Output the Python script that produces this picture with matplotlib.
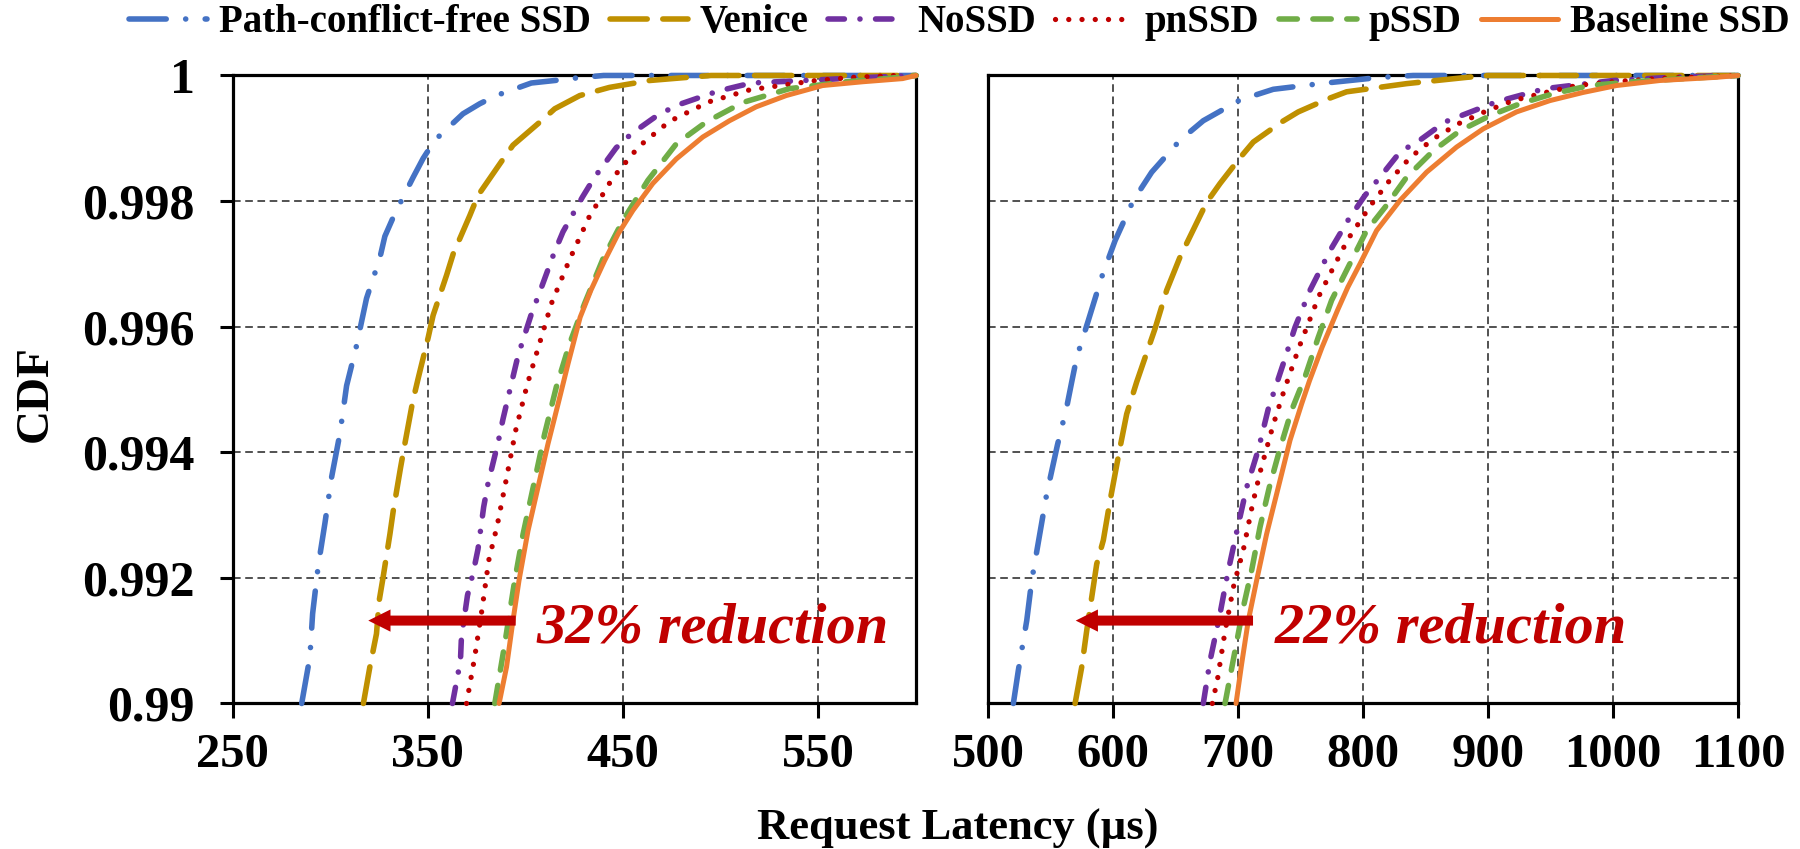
import matplotlib
matplotlib.use("Agg")
import matplotlib.pyplot as plt
from matplotlib.patches import ArrowStyle

plt.rcParams['font.family'] = ['Liberation Serif', 'DejaVu Serif']
plt.rcParams['font.weight'] = 'bold'

SERIES = ["Path-conflict-free SSD", "Venice", "NoSSD", "pnSSD", "pSSD", "Baseline SSD"]
COLORS = ["#4472C4", "#BF9000", "#7030A0", "#C00000", "#70AD47", "#ED7D31"]

# ---------------- left panel data (latency us, CDF) ----------------
L_PCF_LAT = [285.4, 289.6, 291, 293.9, 297.3, 300.7, 305, 308.4, 313.5, 316, 318.6, 325.4, 328, 333.1,
             342.5, 347.6, 353.6, 368, 376.6, 385, 403, 415, 426, 440, 600]
L_PCF_CDF = [0.99, 0.99074, 0.99143, 0.9922, 0.99287, 0.9936, 0.9943, 0.99506, 0.9957, 0.99607, 0.99645,
             0.99709, 0.99744, 0.9978, 0.99838, 0.99868, 0.99897, 0.99939, 0.99955, 0.99968, 0.99988,
             0.99992, 0.99996, 1.0, 1.0]
L_VEN_LAT = [317, 320.3, 323.7, 325.1, 327.1, 330.6, 332.3, 336, 338.2, 342.2, 345, 350.2, 352.7, 359.6,
             363, 371.5, 375.7, 387.7, 393.6, 408.2, 415, 427.8, 443, 463.6, 479, 495, 600]
L_VEN_CDF = [0.99, 0.99058, 0.99111, 0.99164, 0.99201, 0.9927, 0.99307, 0.99375, 0.99413, 0.9948, 0.99517,
             0.99583, 0.99618, 0.99682, 0.99716, 0.99777, 0.99809, 0.99863, 0.99889, 0.99928, 0.99947,
             0.99968, 0.99981, 0.99992, 0.99996, 1.0, 1.0]
L_NO_LAT = [362.6, 366.7, 367.2, 370.3, 373.2, 375.7, 378.6, 380.8, 386, 388.5, 393.6, 396.2, 403, 407.3,
            414.5, 419.2, 429.1, 435.4, 446.5, 454.2, 468.7, 479.8, 498.5, 515.6, 576, 600]
L_NO_CDF = [0.99, 0.99068, 0.99105, 0.99172, 0.99208, 0.99246, 0.99313, 0.9935, 0.99416, 0.99453, 0.9952,
            0.99554, 0.9962, 0.99655, 0.99716, 0.99751, 0.99806, 0.99838, 0.99885, 0.99907, 0.99939,
            0.99955, 0.99975, 0.99988, 0.99997, 1.0]
L_PN_LAT = [369.8, 374, 377.8, 381.2, 385.5, 390.3, 395, 401, 406.4, 413.3, 422.6, 432.5, 444.5, 458.1,
            473.8, 493.9, 514.7, 548.8, 567.6, 590]
L_PN_CDF = [0.99, 0.99074, 0.99151, 0.99228, 0.99283, 0.99359, 0.99435, 0.99509, 0.99565, 0.99637,
            0.99707, 0.99774, 0.99836, 0.99887, 0.99927, 0.99958, 0.99977, 0.99992, 0.99997, 1.0]
L_P_LAT = [384.3, 389.4, 394.5, 398.8, 404.7, 409.8, 415.8, 422.6, 430.3, 439.7, 449.9, 462.7, 477.2,
           492.6, 511.3, 535.2, 564.2, 584.6, 600]
L_P_CDF = [0.99, 0.99095, 0.99196, 0.9927, 0.99355, 0.99429, 0.99504, 0.99573, 0.99637, 0.99708, 0.99769,
           0.99833, 0.99891, 0.99926, 0.99957, 0.99979, 0.9999, 0.99995, 1.0]
L_BASE_LAT = [386.5, 390.3, 393.6, 396.7, 401.3, 406.4, 411.5, 416.7, 421.8, 428, 433.5, 440.5, 447.5,
              455, 465.2, 477.2, 490.8, 504.5, 518.1, 533.5, 552.2, 572.7, 593.1, 600]
L_BASE_CDF = [0.99, 0.99058, 0.99132, 0.99196, 0.99275, 0.99344, 0.99413, 0.99477, 0.99541, 0.99615,
              0.99658, 0.99705, 0.99748, 0.99785, 0.99828, 0.99867, 0.99902, 0.99928, 0.9995, 0.99968,
              0.99984, 0.9999, 0.99995, 1.0]

# ---------------- right panel data ----------------
R_PCF_LAT = [520, 524, 530.7, 534.7, 541.4, 546.7, 555.2, 562.7, 566.7, 570.7, 580, 590.7, 601.4, 616,
             630.7, 653.4, 672, 701.4, 728, 765.4, 813.4, 840, 1100]
R_PCF_CDF = [0.99, 0.99053, 0.99132, 0.99196, 0.99273, 0.99334, 0.99411, 0.99472, 0.99512, 0.99551,
             0.9961, 0.99679, 0.99737, 0.99801, 0.99846, 0.99897, 0.99928, 0.99961, 0.99978, 0.99987,
             0.99997, 1.0, 1.0]
R_VEN_LAT = [569.4, 574.7, 578.7, 582.7, 586.7, 592, 597.4, 605.4, 610.7, 618.7, 633.4, 642.7, 653.4,
             674.7, 685.4, 701.4, 712, 734.7, 748, 772, 786.7, 834.7, 882.7, 900, 1100]
R_VEN_CDF = [0.99, 0.99058, 0.99116, 0.99169, 0.99222, 0.9926, 0.99323, 0.99408, 0.99461, 0.99512,
             0.99597, 0.99658, 0.99711, 0.99798, 0.99828, 0.99869, 0.99894, 0.99926, 0.99942, 0.99963,
             0.99974, 0.99987, 0.99997, 1.0, 1.0]
R_NO_LAT = [672, 677.4, 685.4, 691.5, 698.7, 706.7, 716, 724, 736, 745.4, 757.4, 773.4, 788, 801.4,
            813.4, 829.4, 846.7, 865.4, 906.7, 945.4, 1000, 1045.4, 1090]
R_NO_CDF = [0.99, 0.99068, 0.99143, 0.99207, 0.99273, 0.99344, 0.99404, 0.99469, 0.99541, 0.99599,
            0.99658, 0.99721, 0.9977, 0.99809, 0.99838, 0.99878, 0.99899, 0.99926, 0.99958, 0.99979,
            0.99992, 0.99997, 1.0]
R_PN_LAT = [679.2, 683.5, 689.4, 696.6, 704, 711.5, 718.2, 728, 736.6, 748.6, 764.6, 776.8, 788, 805.9,
            820.8, 837.4, 856, 876, 898.1, 920, 944, 970.7, 1000, 1034.7, 1072, 1100]
R_PN_CDF = [0.99, 0.9904, 0.99115, 0.9919, 0.99244, 0.99318, 0.99374, 0.99444, 0.99498, 0.99567,
            0.99649, 0.99697, 0.9974, 0.99793, 0.99832, 0.99869, 0.99899, 0.99923, 0.99943, 0.9996,
            0.99972, 0.99984, 0.9999, 0.99995, 0.99998, 1.0]
R_P_LAT = [689.4, 697.4, 704, 710.7, 717.4, 724.8, 733.4, 742.7, 753.4, 764, 774.7, 788, 802.7, 817.4,
           834.7, 856, 877.4, 901.4, 925.4, 952, 981.4, 1016, 1056, 1100]
R_P_CDF = [0.99, 0.99084, 0.99153, 0.99212, 0.99281, 0.99344, 0.99406, 0.99467, 0.9952, 0.99583,
           0.99642, 0.99695, 0.99753, 0.9979, 0.99838, 0.9988, 0.99912, 0.99936, 0.99955, 0.99971,
           0.99984, 0.9999, 0.99995, 1.0]
R_BASE_LAT = [698.2, 702.7, 708, 714.7, 722.7, 732, 741.4, 750.7, 757, 767, 779.4, 787.7, 797.4, 810.7,
              829.4, 850.7, 874.7, 896, 922.7, 949.4, 976, 1002.7, 1037.4, 1082, 1100]
R_BASE_CDF = [0.99, 0.99063, 0.99132, 0.99196, 0.9927, 0.99344, 0.99419, 0.99477, 0.99514, 0.99567,
              0.99626, 0.99663, 0.997, 0.99753, 0.99801, 0.99846, 0.99886, 0.99915, 0.99942, 0.9996,
              0.99973, 0.99984, 0.99992, 0.99997, 1.0]

LEFT_XTICKS = [250, 350, 450, 550]
RIGHT_XTICKS = [500, 600, 700, 800, 900, 1000, 1100]
YTICKS = [0.99, 0.992, 0.994, 0.996, 0.998, 1.0]
YTICK_LABELS = ["0.99", "0.992", "0.994", "0.996", "0.998", "1"]
LEFT_NOTE = "32% reduction"
RIGHT_NOTE = "22% reduction"
# arrow (from latency, to latency, cdf) and text anchor
LEFT_ARROW = (395, 319.5, 0.99132)
RIGHT_ARROW = (711.8, 569.9, 0.99132)
LEFT_NOTE_POS = (405.8, 0.99097)
RIGHT_NOTE_POS = (729.4, 0.99097)

STYLES = [
    dict(lw=4.0, ls=(0, (6.7, 3.5, 0.01, 3.5))),
    dict(lw=4.0, ls=(0, (6.7, 2.8))),
    dict(lw=4.0, ls=(0, (2.95, 2.8, 0.01, 2.8))),
    dict(lw=3.8, ls=(0, (0.01, 2.5))),
    dict(lw=4.0, ls=(0, (3.3, 2.8))),
    dict(lw=3.6, ls='-'),
]

fig = plt.figure(figsize=(18, 8.49), dpi=100)
axL = fig.add_axes([0.1292, 0.1714, 0.3797, 0.7397])
axR = fig.add_axes([0.5491, 0.1714, 0.4165, 0.7397])

left_data = [(L_PCF_LAT, L_PCF_CDF), (L_VEN_LAT, L_VEN_CDF), (L_NO_LAT, L_NO_CDF),
             (L_PN_LAT, L_PN_CDF), (L_P_LAT, L_P_CDF), (L_BASE_LAT, L_BASE_CDF)]
right_data = [(R_PCF_LAT, R_PCF_CDF), (R_VEN_LAT, R_VEN_CDF), (R_NO_LAT, R_NO_CDF),
              (R_PN_LAT, R_PN_CDF), (R_P_LAT, R_P_CDF), (R_BASE_LAT, R_BASE_CDF)]

handles = []
for ax, data in ((axL, left_data), (axR, right_data)):
    for i, (x, y) in enumerate(data):
        ln, = ax.plot(x, y, color=COLORS[i], linewidth=STYLES[i]['lw'], linestyle=STYLES[i]['ls'],
                      dash_capstyle='round', solid_capstyle='round', clip_on=False, zorder=3 + i * 0.1,
                      label=SERIES[i])
        if ax is axL:
            handles.append(ln)

def style_axis(ax, xlim, xticks, show_ylabels):
    ax.set_xlim(*xlim)
    ax.set_ylim(0.99, 1.0)
    ax.set_xticks(xticks)
    ax.set_xticklabels([str(t) for t in xticks], fontsize=35, fontweight='bold')
    ax.set_yticks(YTICKS)
    ax.grid(True, color='#222222', linestyle=(0, (5, 3)), linewidth=1.1)
    ax.set_axisbelow(True)
    for s in ax.spines.values():
        s.set_linewidth(2.3)
        s.set_color('black')
        s.set_zorder(2.5)
    ax.tick_params(axis='x', direction='out', length=11, width=2.2, pad=10)
    if show_ylabels:
        ax.set_yticklabels(YTICK_LABELS, fontsize=36, fontweight='bold')
        ax.tick_params(axis='y', direction='out', length=9.4, width=2.2, pad=18)
    else:
        ax.set_yticklabels([])
        ax.tick_params(axis='y', length=0)

style_axis(axL, (250, 600), LEFT_XTICKS, True)
style_axis(axR, (500, 1100), RIGHT_XTICKS, False)

red = "#C00000"
arrow_style = ArrowStyle('simple', head_length=16, head_width=16, tail_width=7.2)
for ax, (x0, x1, yy), note, (tx, ty) in ((axL, LEFT_ARROW, LEFT_NOTE, LEFT_NOTE_POS),
                                         (axR, RIGHT_ARROW, RIGHT_NOTE, RIGHT_NOTE_POS)):
    ax.annotate('', xy=(x1, yy), xytext=(x0, yy),
                arrowprops=dict(arrowstyle=arrow_style, color=red, mutation_scale=1,
                                shrinkA=0, shrinkB=0, lw=0), zorder=6)
    ax.text(tx, ty, note, color=red, fontsize=42, fontweight='bold', fontstyle='italic',
            ha='left', va='baseline', zorder=6)

fig.text(0.02, 0.537, "CDF", rotation=90, fontsize=34, fontweight='bold', ha='center', va='center')
fig.text(0.532, 0.0106, "Request Latency (\u00b5s)", fontsize=32, fontweight='bold', ha='center',
         va='baseline')

fig.legend(handles=handles, labels=SERIES, loc='upper center', bbox_to_anchor=(0.533, 0.995), ncol=6,
           frameon=False, prop=dict(size=28, weight='bold'), handlelength=2.0, handletextpad=0.3,
           columnspacing=0.5, borderpad=0.0, borderaxespad=0.0)

fig.savefig("out.png", dpi=100)
